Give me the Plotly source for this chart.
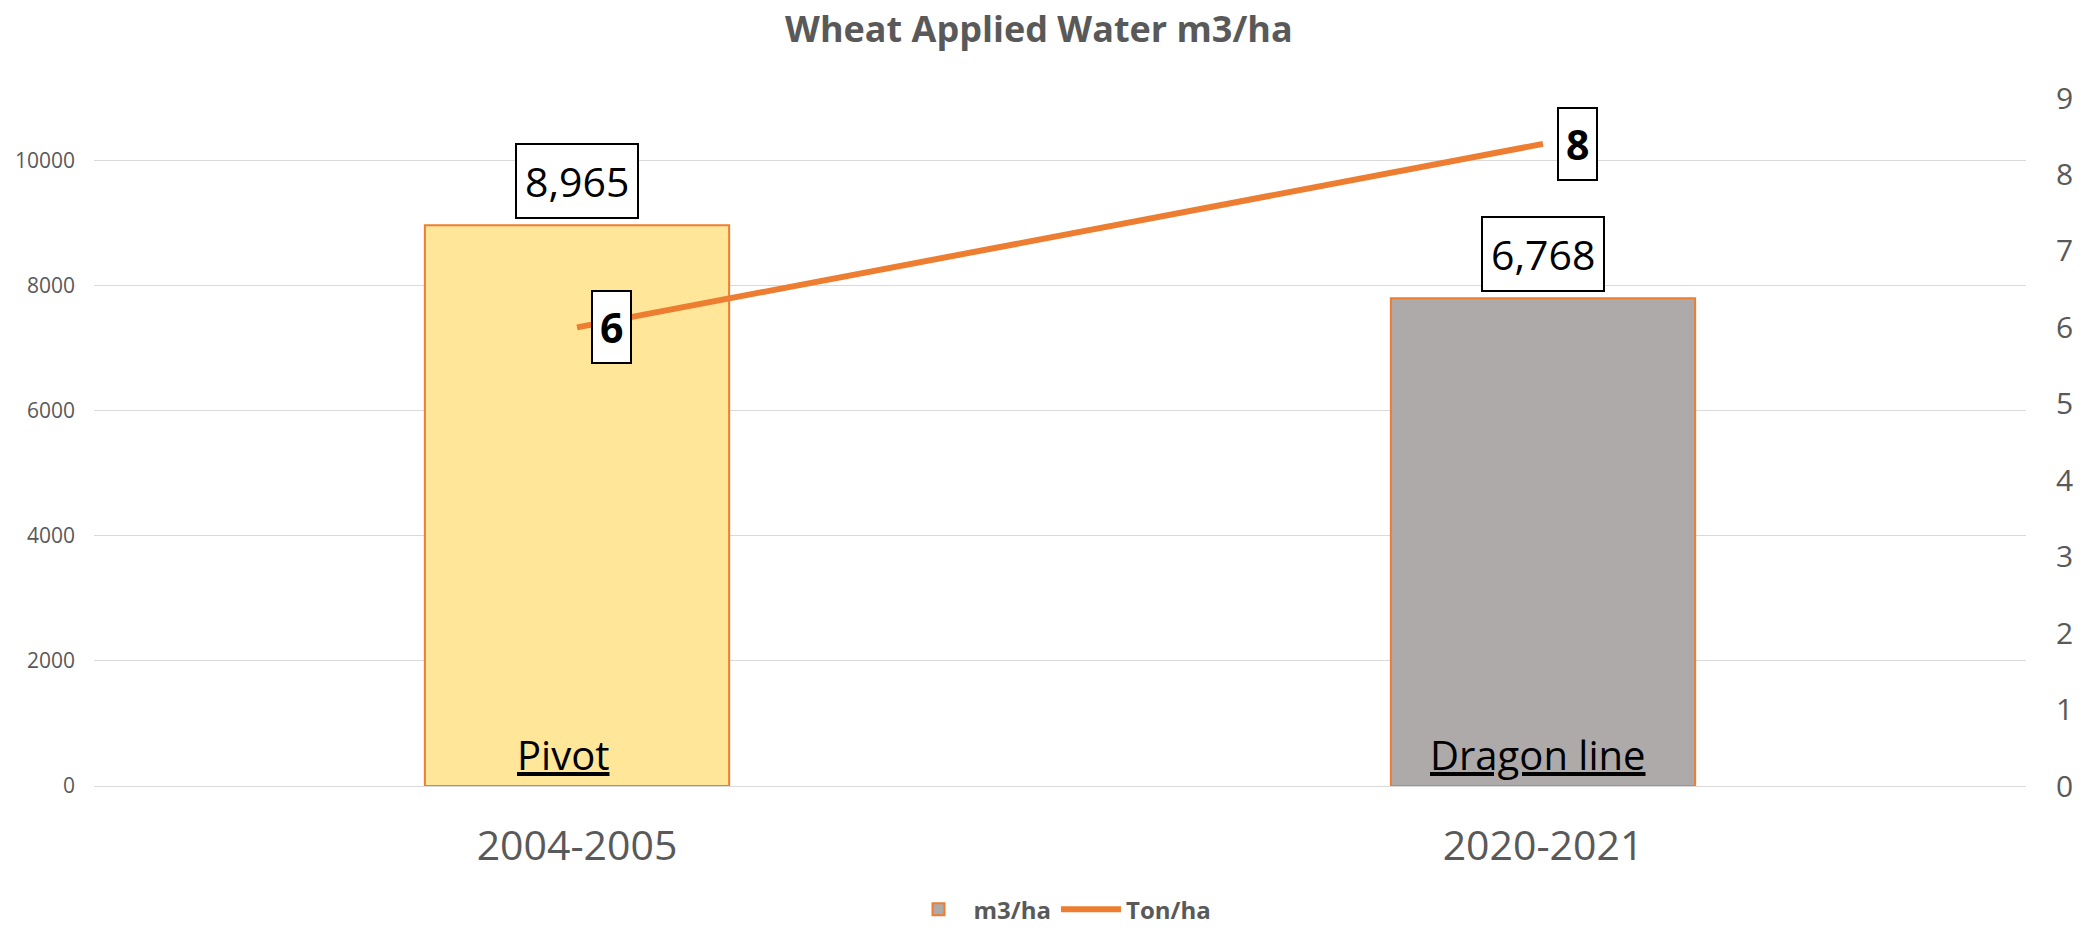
import plotly.graph_objects as go

categories = ["2004-2005", "2020-2021"]
water_m3_ha = [8965, 7800]
water_labels = ["8,965", "6,768"]
yield_ton_ha = [6.0, 8.4]
yield_labels = ["6", "8"]
system_names = ["Pivot", "Dragon line"]
bar_colors = ["#FFE699", "#AEAAAA"]

ORANGE = "#ED7D31"
GREY_TXT = "#595959"
FONT = "Open Sans"

fig = go.Figure()

fig.add_trace(go.Bar(
    x=categories, y=water_m3_ha, name="m3/ha",
    marker=dict(color=bar_colors, line=dict(color=ORANGE, width=2)),
    width=0.315, showlegend=False, hoverinfo="y",
))
# legend entry for the bars (grey swatch with orange border)
fig.add_trace(go.Bar(
    x=[categories[0]], y=[None], name="m3/ha",
    marker=dict(color="#AEAAAA", line=dict(color=ORANGE, width=2)),
    showlegend=True,
))
fig.add_trace(go.Scatter(
    x=categories, y=yield_ton_ha, name="Ton/ha", yaxis="y2",
    mode="lines", line=dict(color=ORANGE, width=6),
))

annotations = []
for c, v, t in zip(categories, water_m3_ha, water_labels):
    annotations.append(dict(
        x=c, y=v, xref="x", yref="y", text=t, showarrow=False,
        yanchor="bottom", yshift=6,
        font=dict(family=FONT, size=41, color="black"),
        bordercolor="black", borderwidth=2, borderpad=8, bgcolor="white",
    ))
for c, v, t in zip(categories, yield_ton_ha, yield_labels):
    annotations.append(dict(
        x=c, y=v, xref="x", yref="y2", text="<b>" + t + "</b>", showarrow=False,
        xanchor="left", yanchor="middle", xshift=14,
        font=dict(family=FONT, size=41, color="black"),
        bordercolor="black", borderwidth=2, borderpad=7, bgcolor="white",
    ))
for c, name, xs in zip(categories, system_names, [-14, -5]):
    annotations.append(dict(
        x=c, y=0, xref="x", yref="y", text="<u>" + name + "</u>", showarrow=False,
        yanchor="bottom", yshift=2, xshift=xs,
        font=dict(family=FONT, size=40, color="black"),
    ))

fig.update_layout(
    width=2087, height=930,
    paper_bgcolor="white", plot_bgcolor="white",
    margin=dict(l=94, r=61, t=98, b=144),
    barmode="overlay",
    title=dict(text="<b>Wheat Applied Water m3/ha</b>", x=0.4978, xanchor="center",
               y=0.968, yanchor="middle", yref="container",
               font=dict(family=FONT, size=36, color=GREY_TXT)),
    xaxis=dict(showgrid=False, showline=False, ticks="",
               tickfont=dict(family=FONT, size=41, color=GREY_TXT),
               ticklabelstandoff=32),
    yaxis=dict(range=[0, 11000], dtick=2000, tickformat="d", showgrid=True,
               gridcolor="#D9D9D9", gridwidth=1.3, zeroline=True,
               zerolinecolor="#D9D9D9", zerolinewidth=1.3,
               showline=False, ticks="", ticklabelstandoff=18,
               tickfont=dict(family=FONT, size=21, color=GREY_TXT)),
    yaxis2=dict(range=[0, 9], dtick=1, overlaying="y", side="right", showgrid=False,
                zeroline=False, showline=False, ticks="", ticklabelstandoff=29,
                tickfont=dict(family=FONT, size=30, color=GREY_TXT)),
    legend=dict(orientation="h", x=0.5, xanchor="center", yref="container", y=0.022,
                yanchor="middle", font=dict(family=FONT, size=24, color=GREY_TXT, weight="bold"),
                traceorder="normal", itemwidth=60),
    annotations=annotations,
)

fig.write_html("out.html", config={"displayModeBar": False},
               post_script="document.body.style.margin='0';document.body.style.overflow='hidden';")
